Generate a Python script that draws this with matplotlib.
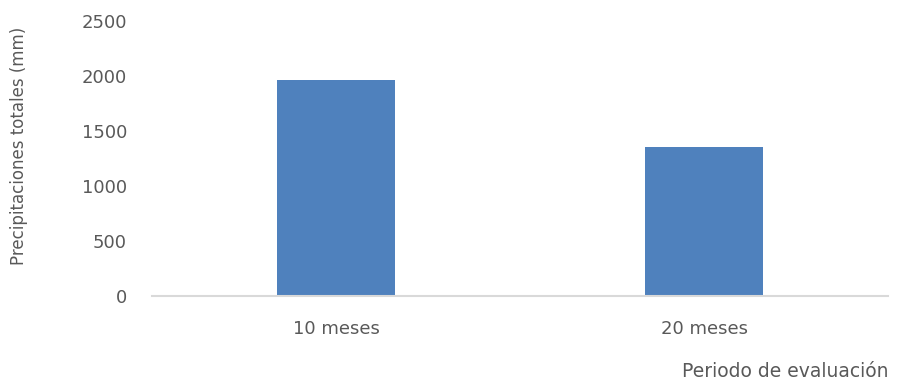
import matplotlib
matplotlib.use('Agg')
import matplotlib.pyplot as plt

categorias = ['10 meses', '20 meses']
precipitaciones = [1965, 1355]
y_ticks = [0, 500, 1000, 1500, 2000, 2500]

gris = '#595959'

fig = plt.figure(figsize=(9.02, 3.83), dpi=100)
ax = fig.add_axes([0.1685, 0.227, 0.816, 0.718])

x = list(range(len(categorias)))
ax.bar(x, precipitaciones, width=0.318, color='#4F81BD', zorder=2)

ax.set_xlim(-0.5, 1.5)
ax.set_ylim(0, 2500)
ax.set_yticks(y_ticks)
ax.set_yticklabels([str(v) for v in y_ticks], fontsize=13, color=gris)
ax.set_xticks(x)
ax.set_xticklabels(categorias, fontsize=13, color=gris)
ax.tick_params(axis='both', length=0)
ax.tick_params(axis='y', pad=18)
ax.tick_params(axis='x', pad=17)

for s in ['top', 'right', 'left']:
    ax.spines[s].set_visible(False)
ax.spines['bottom'].set_color('#D9D9D9')
ax.spines['bottom'].set_linewidth(1.5)

fig.text(0.021, 0.62, 'Precipitaciones totales (mm)', rotation=90, fontsize=12,
         color=gris, ha='center', va='center')
fig.text(0.985, 0.005, 'Periodo de evaluación', fontsize=13.5, color=gris,
         ha='right', va='bottom')

fig.savefig('out.png', dpi=100)
